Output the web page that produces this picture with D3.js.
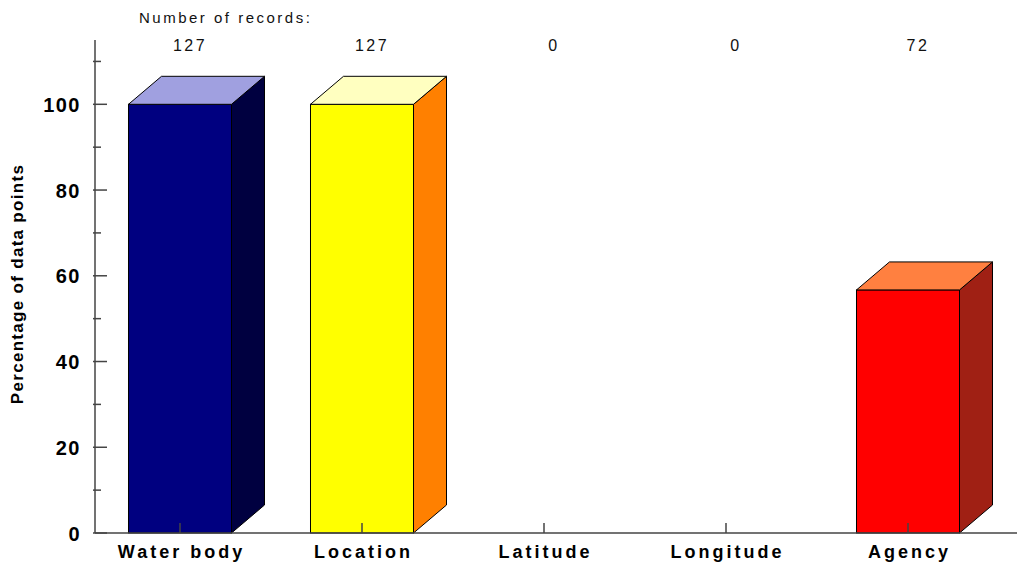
<!DOCTYPE html>
<html><head><meta charset="utf-8">
<script src="https://cdn.jsdelivr.net/npm/d3@7"></script>
<style>
body{margin:0;background:#fff;}
svg{display:block;font-family:"Liberation Sans",Arial,sans-serif;}
</style></head>
<body><svg id="c" width="1017" height="566"></svg>
<script>
const categories = ["Water body","Location","Latitude","Longitude","Agency"];
const percentages = [100, 100, 0, 0, 56.7];
const recordCounts = [127, 127, 0, 0, 72];
const yMajorTicks = [0, 20, 40, 60, 80, 100];
const yMinorTicks = [10, 30, 50, 70, 90, 110];
const frontColors = ["#000080","#FFFF00","#808080","#808080","#FF0000"];
const topColors = ["#A0A0E0","#FFFFC0","#C0C0C0","#C0C0C0","#FF8040"];
const sideColors = ["#000040","#FF8000","#404040","#404040","#A02014"];

const svg = d3.select("#c");
const x = d3.scaleBand().domain(categories).range([89, 999]).paddingInner(0.434).paddingOuter(0.217);
const y = d3.scaleLinear().domain([0, 115]).range([533, 40]);
const dx = 33, dy = -28;
const axisColor = "#444";

// bars
const data = categories.map((c,i)=>({c, v:percentages[i], n:recordCounts[i], i}));
const g = svg.append("g");
data.filter(d=>d.v>0).forEach(d=>{
  const x0 = x(d.c), x1 = x0 + x.bandwidth(), yt = y(d.v), yb = y(0);
  g.append("rect").attr("x",x0).attr("y",yt).attr("width",x.bandwidth()).attr("height",yb-yt)
    .attr("fill",frontColors[d.i]).attr("stroke","#000").attr("stroke-width",1);
  g.append("path").attr("d",`M${x1},${yb}L${x1},${yt}L${x1+dx},${yt+dy}L${x1+dx},${yb+dy}Z`)
    .attr("fill",sideColors[d.i]).attr("stroke","#000").attr("stroke-width",1).attr("stroke-linejoin","round");
  g.append("path").attr("d",`M${x0},${yt}L${x0+dx},${yt+dy}L${x1+dx},${yt+dy}L${x1},${yt}Z`)
    .attr("fill",topColors[d.i]).attr("stroke","#000").attr("stroke-width",1).attr("stroke-linejoin","round");
});

// y axis
const yAxisX = 95;
svg.append("line").attr("x1",yAxisX).attr("x2",yAxisX).attr("y1",y(115)).attr("y2",y(0))
  .attr("stroke",axisColor).attr("stroke-width",1.5);
svg.selectAll(".ymaj").data(yMajorTicks).enter().append("line")
  .attr("x1",yAxisX-2).attr("x2",yAxisX+12).attr("y1",d=>y(d)).attr("y2",d=>y(d))
  .attr("stroke",axisColor).attr("stroke-width",1.5);
svg.selectAll(".ymin").data(yMinorTicks).enter().append("line")
  .attr("x1",yAxisX-2).attr("x2",yAxisX+6).attr("y1",d=>y(d)).attr("y2",d=>y(d))
  .attr("stroke",axisColor).attr("stroke-width",1.5);
svg.selectAll(".ylab").data(yMajorTicks).enter().append("text")
  .attr("x",79.5).attr("y",d=>y(d)+7.5).attr("text-anchor","end")
  .style("font-size","20px").style("font-weight","bold").style("letter-spacing","1.5px")
  .attr("dx","1.5px")
  .text(d=>d);

// x axis
svg.append("line").attr("x1",yAxisX).attr("x2",1017).attr("y1",y(0)).attr("y2",y(0))
  .attr("stroke",axisColor).attr("stroke-width",1.5);
svg.selectAll(".xt").data(categories).enter().append("line")
  .attr("x1",d=>x(d)+x.bandwidth()/2).attr("x2",d=>x(d)+x.bandwidth()/2)
  .attr("y1",y(0)).attr("y2",y(0)-10).attr("stroke",axisColor).attr("stroke-width",1.5);
svg.selectAll(".xl").data(categories).enter().append("text")
  .attr("x",d=>x(d)+x.bandwidth()/2+1.5).attr("y",558).attr("text-anchor","middle")
  .style("font-size","18px").style("font-weight","bold").style("letter-spacing","3px")
  .text(d=>d);

// record counts
svg.append("text").attr("x",139).attr("y",23)
  .style("font-size","15px").style("letter-spacing","2.5px").attr("fill","#111")
  .text("Number of records:");
svg.selectAll(".cnt").data(data).enter().append("text")
  .attr("x",d=>x(d.c)+x.bandwidth()/2+10).attr("y",51).attr("text-anchor","middle")
  .style("font-size","16px").style("letter-spacing","2.5px").attr("fill","#111")
  .text(d=>d.n);

// y title
svg.append("text").attr("transform","translate(23,284) rotate(-90)").attr("text-anchor","middle")
  .style("font-size","17px").style("font-weight","bold").style("letter-spacing","1.3px")
  .text("Percentage of data points");
</script></body></html>
